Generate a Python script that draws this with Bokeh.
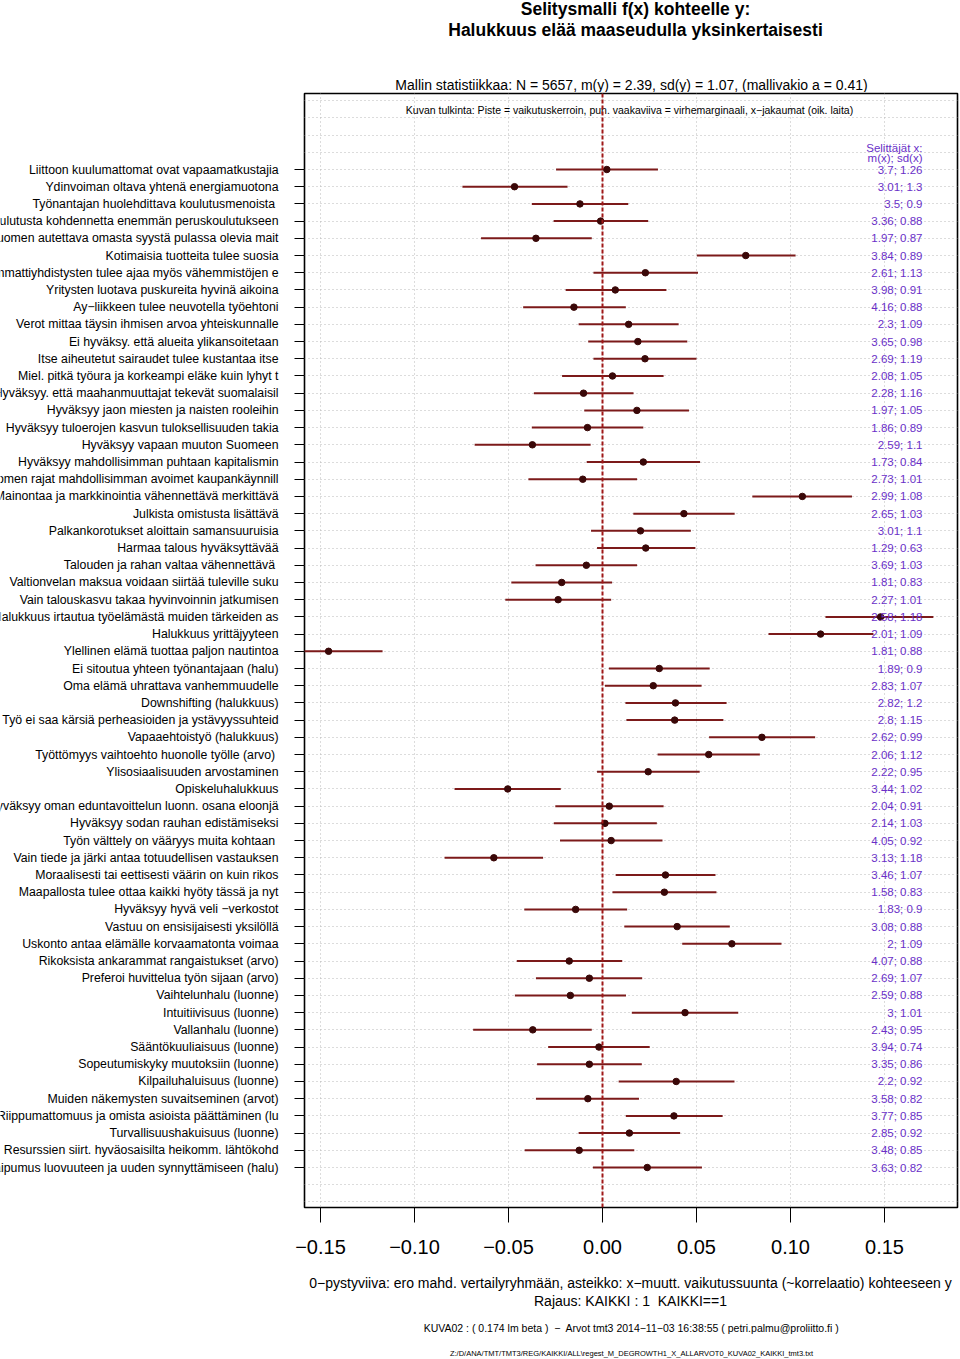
from bokeh.plotting import figure
from bokeh.models import ColumnDataSource, Range1d, FixedTicker, Span
from bokeh.layouts import column, row
from bokeh.core.properties import value
from bokeh.embed import file_html
from bokeh.resources import INLINE

labels = [
    "Liittoon kuulumattomat ovat vapaamatkustajia",
    "Ydinvoiman oltava yhtenä energiamuotona",
    "Työnantajan huolehdittava koulutusmenoista ",
    "Koulutusta kohdennetta enemmän peruskoulutukseen",
    "Suomen autettava omasta syystä pulassa olevia mait",
    "Kotimaisia tuotteita tulee suosia",
    "Ammattiyhdistysten tulee ajaa myös vähemmistöjen e",
    "Yritysten luotava puskureita hyvinä aikoina",
    "Ay−liikkeen tulee neuvotella työehtoni",
    "Verot mittaa täysin ihmisen arvoa yhteiskunnalle",
    "Ei hyväksy. että alueita ylikansoitetaan",
    "Itse aiheutetut sairaudet tulee kustantaa itse",
    "Miel. pitkä työura ja korkeampi eläke kuin lyhyt t",
    "Hyväksyy. että maahanmuuttajat tekevät suomalaisil",
    "Hyväksyy jaon miesten ja naisten rooleihin",
    "Hyväksyy tuloerojen kasvun tuloksellisuuden takia",
    "Hyväksyy vapaan muuton Suomeen",
    "Hyväksyy mahdollisimman puhtaan kapitalismin",
    "Suomen rajat mahdollisimman avoimet kaupankäynnill",
    "Mainontaa ja markkinointia vähennettävä merkittävä",
    "Julkista omistusta lisättävä",
    "Palkankorotukset aloittain samansuuruisia",
    "Harmaa talous hyväksyttävää",
    "Talouden ja rahan valtaa vähennettävä ",
    "Valtionvelan maksua voidaan siirtää tuleville suku",
    "Vain talouskasvu takaa hyvinvoinnin jatkumisen",
    "Halukkuus irtautua työelämästä muiden tärkeiden as",
    "Halukkuus yrittäjyyteen",
    "Ylellinen elämä tuottaa paljon nautintoa",
    "Ei sitoutua yhteen työnantajaan (halu)",
    "Oma elämä uhrattava vanhemmuudelle",
    "Downshifting (halukkuus)",
    "Työ ei saa kärsiä perheasioiden ja ystävyyssuhteid",
    "Vapaaehtoistyö (halukkuus)",
    "Työttömyys vaihtoehto huonolle työlle (arvo) ",
    "Ylisosiaalisuuden arvostaminen",
    "Opiskeluhalukkuus",
    "Hyväksyy oman eduntavoittelun luonn. osana eloonjä",
    "Hyväksyy sodan rauhan edistämiseksi",
    "Työn välttely on vääryys muita kohtaan ",
    "Vain tiede ja järki antaa totuudellisen vastauksen",
    "Moraalisesti tai eettisesti väärin on kuin rikos",
    "Maapallosta tulee ottaa kaikki hyöty tässä ja nyt",
    "Hyväksyy hyvä veli −verkostot",
    "Vastuu on ensisijaisesti yksilöllä",
    "Uskonto antaa elämälle korvaamatonta voimaa",
    "Rikoksista ankarammat rangaistukset (arvo)",
    "Preferoi huvittelua työn sijaan (arvo)",
    "Vaihtelunhalu (luonne)",
    "Intuitiivisuus (luonne)",
    "Vallanhalu (luonne)",
    "Sääntökuuliaisuus (luonne)",
    "Sopeutumiskyky muutoksiin (luonne)",
    "Kilpailuhaluisuus (luonne)",
    "Muiden näkemysten suvaitseminen (arvot)",
    "Riippumattomuus ja omista asioista päättäminen (lu",
    "Turvallisuushakuisuus (luonne)",
    "Resurssien siirt. hyväosaisilta heikomm. lähtökohd",
    "Taipumus luovuuteen ja uuden synnyttämiseen (halu)",
]

coef = [0.0023, -0.0468, -0.012, -0.001, -0.0354, 0.0762, 0.0228, 0.0068, -0.0152, 0.0139,
        0.0188, 0.0226, 0.0053, -0.0101, 0.0183, -0.008, -0.0373, 0.0217, -0.0105, 0.1063,
        0.0433, 0.0202, 0.023, -0.0086, -0.0217, -0.0236, 0.1479, 0.116, -0.1457, 0.0302,
        0.027, 0.0388, 0.0384, 0.0848, 0.0565, 0.0243, -0.0504, 0.0036, 0.0013, 0.0046,
        -0.0578, 0.0335, 0.0329, -0.0143, 0.0397, 0.0688, -0.0177, -0.007, -0.0171, 0.0439,
        -0.0371, -0.0019, -0.007, 0.0392, -0.0078, 0.038, 0.0143, -0.0124, 0.0238]

ci_low = [-0.0247, -0.0745, -0.0376, -0.026, -0.0646, 0.0502, -0.0048, -0.0196, -0.0422, -0.0127,
          -0.0076, -0.0048, -0.0215, -0.0365, -0.0097, -0.0376, -0.068, -0.0084, -0.0394, 0.0797,
          0.0164, -0.0061, -0.0029, -0.0356, -0.0485, -0.0517, 0.1186, 0.0883, -0.175, 0.0034,
          0.0013, 0.0122, 0.0127, 0.0567, 0.0293, -0.0029, -0.0787, -0.0251, -0.0259, -0.0226,
          -0.084, 0.007, 0.0053, -0.0416, 0.0116, 0.0424, -0.0456, -0.0354, -0.0466, 0.0156,
          -0.0688, -0.0289, -0.0348, 0.0086, -0.0354, 0.0124, -0.0127, -0.0414, -0.0051]

ci_high = [0.0295, -0.0186, 0.0137, 0.0243, -0.0057, 0.1027, 0.0508, 0.034, 0.0124, 0.0405,
           0.0451, 0.05, 0.0325, 0.0165, 0.046, 0.0217, -0.0063, 0.0519, 0.0184, 0.1327,
           0.0703, 0.047, 0.0494, 0.0184, 0.0051, 0.0046, 0.176, 0.1441, -0.117, 0.057,
           0.0527, 0.066, 0.0643, 0.1131, 0.0837, 0.0517, -0.0222, 0.0325, 0.0289, 0.0319,
           -0.0316, 0.0601, 0.0606, 0.0131, 0.0677, 0.0952, 0.0105, 0.0211, 0.0125, 0.0722,
           -0.0057, 0.0251, 0.0209, 0.0702, 0.0194, 0.0639, 0.0413, 0.0169, 0.0529]

x_mean = [3.7, 3.01, 3.5, 3.36, 1.97, 3.84, 2.61, 3.98, 4.16, 2.3,
          3.65, 2.69, 2.08, 2.28, 1.97, 1.86, 2.59, 1.73, 2.73, 2.99,
          2.65, 3.01, 1.29, 3.69, 1.81, 2.27, 2.58, 2.01, 1.81, 1.89,
          2.83, 2.82, 2.8, 2.62, 2.06, 2.22, 3.44, 2.04, 2.14, 4.05,
          3.13, 3.46, 1.58, 1.83, 3.08, 2.0, 4.07, 2.69, 2.59, 3.0,
          2.43, 3.94, 3.35, 2.2, 3.58, 3.77, 2.85, 3.48, 3.63]

x_sd = [1.26, 1.3, 0.9, 0.88, 0.87, 0.89, 1.13, 0.91, 0.88, 1.09,
        0.98, 1.19, 1.05, 1.16, 1.05, 0.89, 1.1, 0.84, 1.01, 1.08,
        1.03, 1.1, 0.63, 1.03, 0.83, 1.01, 1.18, 1.09, 0.88, 0.9,
        1.07, 1.2, 1.15, 0.99, 1.12, 0.95, 1.02, 0.91, 1.03, 0.92,
        1.18, 1.07, 0.83, 0.9, 0.88, 1.09, 0.88, 1.07, 0.88, 1.01,
        0.95, 0.74, 0.86, 0.92, 0.82, 0.85, 0.92, 0.85, 0.82]

x_ticks = [-0.15, -0.10, -0.05, 0.0, 0.05, 0.10, 0.15]
x_tick_labels = ["−0.15", "−0.10", "−0.05", "0.00", "0.05", "0.10", "0.15"]

title_lines = ["Selitysmalli f(x) kohteelle y:", "Halukkuus elää maaseudulla yksinkertaisesti"]
stats_text = "Mallin statistiikkaa: N = 5657, m(y) = 2.39, sd(y) = 1.07, (mallivakio a = 0.41)"
legend_text = "Kuvan tulkinta: Piste = vaikutuskerroin, pun. vaakaviiva = virhemarginaali, x−jakaumat (oik. laita)"
header_lines = ["Selittäjät x:", "m(x); sd(x)"]
foot_lines = [
    "0−pystyviiva: ero mahd. vertailyryhmään, asteikko: x−muutt. vaikutussuunta (~korrelaatio) kohteeseen y",
    "Rajaus: KAIKKI : 1\u00a0 KAIKKI==1",
    "KUVA02 : ( 0.174 lm beta )\u00a0 −\u00a0 Arvot tmt3 2014−11−03 16:38:55 ( petri.palmu@proliitto.fi )",
    "Z:/D/ANA/TMT/TMT3/REG/KAIKKI/ALL\\regest_M_DEGROWTH1_X_ALLARVOT0_KUVA02_KAIKKI_tmt3.txt",
]

FONT = "Liberation Sans"
PURPLE = "#6a30c8"

# ---- page geometry (pixels) ----
W, H = 960, 1359
TOP_H = 92            # title strip
MID_BOTTOM = 1270     # end of the plot strip
FL, FR, FT, FB = 304, 957, 93, 1207   # plot box on the page
LEFT_W = 290          # label strip width
ZERO_PX, PX_PER_UNIT = 602.0, 1880.0
ROW0_PX, ROW_PX = 169.0, 17.207


def xd(px):
    return (px - ZERO_PX) / PX_PER_UNIT


def yd(px):
    return 1 + (px - ROW0_PX) / ROW_PX


n = len(labels)
rows = list(range(1, n + 1))
val_text = ["{:g}; {:g}".format(m, s) for m, s in zip(x_mean, x_sd)]
src = ColumnDataSource(dict(row=rows, coef=coef, lo=ci_low, hi=ci_high, label=labels, vt=val_text))


def blank(fig):
    fig.xaxis.visible = False
    fig.yaxis.visible = False
    fig.xgrid.visible = False
    fig.ygrid.visible = False
    fig.outline_line_color = None
    fig.background_fill_color = "white"
    fig.border_fill_color = "white"
    return fig


def ptext(fig, x, y, txt, size, style="normal", color="black", align="center"):
    fig.text(x=[x], y=[y], text=[txt], text_align=align, text_baseline="middle",
             text_font=value(FONT), text_font_size=size, text_font_style=style,
             text_color=color)


# ---- title strip ----
top = figure(width=W, height=TOP_H, output_backend="svg", toolbar_location=None,
             x_range=Range1d(0, W), y_range=Range1d(TOP_H, 0),
             min_border=0, title=None)
blank(top)
ptext(top, 635, 8, title_lines[0], "17.5px", "bold")
ptext(top, 635, 29, title_lines[1], "17.5px", "bold")
ptext(top, 631, 84, stats_text, "14px")

# ---- main plot ----
mid_h = MID_BOTTOM - TOP_H
yr = Range1d(yd(FB), yd(FT))
p = figure(width=W - LEFT_W, height=mid_h, output_backend="svg", toolbar_location=None,
           x_range=Range1d(xd(FL), xd(FR)), y_range=yr,
           min_border_left=FL - LEFT_W, min_border_right=W - FR,
           min_border_top=FT - TOP_H, min_border_bottom=MID_BOTTOM - FB, title=None)
p.outline_line_color = "black"
p.outline_line_width = 1.6
p.background_fill_color = "white"
p.border_fill_color = "white"

p.xgrid.ticker = FixedTicker(ticks=x_ticks)
p.ygrid.ticker = FixedTicker(ticks=list(range(-3, n + 3)))
for g in (p.xgrid, p.ygrid):
    g.grid_line_color = "#b8b8b8"
    g.grid_line_dash = "1 3"
    g.grid_line_width = 1

xa = p.xaxis[0]
xa.ticker = FixedTicker(ticks=x_ticks)
xa.major_label_overrides = {t: s for t, s in zip(x_ticks, x_tick_labels)}
xa.axis_line_color = None
xa.major_tick_in = 0
xa.major_tick_out = 15
xa.major_tick_line_color = "black"
xa.minor_tick_line_color = None
xa.major_label_text_font = FONT
xa.major_label_text_font_size = "20px"
xa.major_label_text_color = "black"
xa.major_label_standoff = 17

ya = p.yaxis[0]
ya.ticker = FixedTicker(ticks=rows)
ya.major_label_overrides = {r: "" for r in rows}
ya.major_label_standoff = 0
ya.axis_line_color = None
ya.major_tick_in = 0
ya.major_tick_out = 10
ya.major_tick_line_color = "black"
ya.minor_tick_line_color = None

p.add_layout(Span(location=0, dimension="height", line_color="#a01818",
                  line_dash="4 2", line_width=2))

p.segment(x0="lo", y0="row", x1="hi", y1="row", source=src,
          line_color="#7c1a1a", line_width=2)
p.scatter(x="coef", y="row", source=src, size=6.5, marker="circle",
          fill_color="#3a0808", line_color="#3a0808")

p.text(x=xd(922), y="row", text="vt", source=src, text_align="right",
       text_baseline="middle", text_font=value(FONT), text_font_size="11.5px",
       text_color=PURPLE)
ptext(p, xd(629), yd(109), legend_text, "10.5px")
ptext(p, xd(922), yd(147), header_lines[0], "11.5px", color=PURPLE, align="right")
ptext(p, xd(922), yd(157), header_lines[1], "11.5px", color=PURPLE, align="right")

# ---- row label strip (left) ----
left = figure(width=LEFT_W, height=mid_h, output_backend="svg", toolbar_location=None,
              x_range=Range1d(0, LEFT_W), y_range=yr,
              min_border_left=0, min_border_right=0,
              min_border_top=FT - TOP_H, min_border_bottom=MID_BOTTOM - FB, title=None)
blank(left)
left.text(x=278, y="row", text="label", source=src, text_align="right",
          text_baseline="middle", text_font=value(FONT), text_font_size="12.3px",
          text_color="black")

# ---- footer strip ----
foot_h = H - MID_BOTTOM
foot = figure(width=W, height=foot_h, output_backend="svg", toolbar_location=None,
              x_range=Range1d(0, W), y_range=Range1d(H, MID_BOTTOM),
              min_border=0, title=None)
blank(foot)
ptext(foot, 630, 1282, foot_lines[0], "14px")
ptext(foot, 630, 1300, foot_lines[1], "14px")
ptext(foot, 631, 1327, foot_lines[2], "10.5px")
ptext(foot, 631, 1353, foot_lines[3], "7.5px")

layout = column(top, row(left, p, spacing=0), foot, spacing=0)
open("out.html", "w").write(file_html(layout, INLINE))
